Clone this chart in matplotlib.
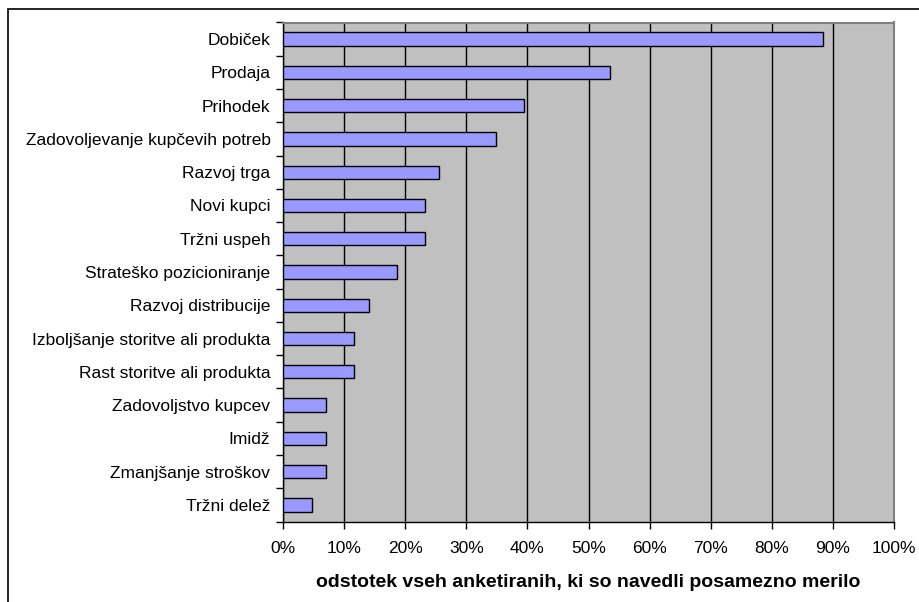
import matplotlib.pyplot as plt
from matplotlib.patches import Rectangle
from matplotlib.ticker import FixedLocator, PercentFormatter

plt.rcParams['font.family'] = ['Liberation Sans', 'DejaVu Sans']

# Data: share of respondents naming each criterion (%)
categories = [
    "Dobiček", "Prodaja", "Prihodek", "Zadovoljevanje kupčevih potreb",
    "Razvoj trga", "Novi kupci", "Tržni uspeh", "Strateško pozicioniranje",
    "Razvoj distribucije", "Izboljšanje storitve ali produkta",
    "Rast storitve ali produkta", "Zadovoljstvo kupcev", "Imidž",
    "Zmanjšanje stroškov", "Tržni delež",
]
values = [88.4, 53.5, 39.5, 34.9, 25.6, 23.3, 23.3, 18.6, 14.0, 11.6,
          11.6, 7.0, 7.0, 7.0, 4.7]
x_ticks = list(range(0, 101, 10))

fig = plt.figure(figsize=(9.19, 6.02), dpi=100)
fig.patch.set_facecolor('white')

# outer chart frame (only left and top edges visible)
fig.add_artist(Rectangle((8 / 919, -0.1), 1.2, 1 - 9 / 602 + 0.1,
                         transform=fig.transFigure, fill=False,
                         edgecolor='black', linewidth=1.2))

ax = fig.add_axes([283 / 919, 1 - 521.5 / 602, 611 / 919, 499 / 602])
ax.set_facecolor('#C0C0C0')

pos = list(range(len(categories)))
ax.barh(pos, values, height=0.4, color='#9999FF', edgecolor='black',
        linewidth=1.0, zorder=3)

ax.set_xlim(0, 100)
ax.set_ylim(len(categories) - 0.5, -0.5)
ax.xaxis.set_major_locator(FixedLocator(x_ticks))
ax.xaxis.set_major_formatter(PercentFormatter(decimals=0))
ax.grid(axis='x', color='black', linewidth=1.0, zorder=1)

# tick marks between categories, labels centred
ax.yaxis.set_major_locator(FixedLocator([p - 0.5 for p in pos] + [len(pos) - 0.5]))
ax.yaxis.set_major_formatter(plt.NullFormatter())
ax.yaxis.set_minor_locator(FixedLocator(pos))
ax.set_yticklabels(categories, minor=True)
ax.tick_params(axis='y', which='major', length=5, width=1, direction='out')
ax.tick_params(axis='y', which='minor', length=0, pad=9, labelsize=12.5)
ax.tick_params(axis='x', length=5, width=1, direction='out', pad=9,
               labelsize=12.5)

for side in ['top', 'right']:
    ax.spines[side].set_color('#808080')
    ax.spines[side].set_linewidth(1.5)
for side in ['left', 'bottom']:
    ax.spines[side].set_color('black')
    ax.spines[side].set_linewidth(1.0)

ax.set_xlabel("odstotek vseh anketiranih, ki so navedli posamezno merilo",
              fontsize=14, fontweight='bold', labelpad=13)

fig.savefig('out.png', dpi=100)
